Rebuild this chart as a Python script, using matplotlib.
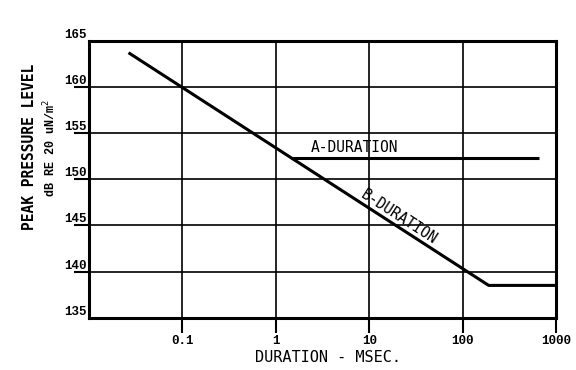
import matplotlib
matplotlib.use("Agg")
import matplotlib.pyplot as plt
from matplotlib.ticker import FixedLocator, NullLocator, FixedFormatter

# Data
b_duration_ms = [0.0265, 190, 1000]
b_level_db = [163.7, 138.5, 138.5]
a_duration_ms = [1.45, 650]
a_level_db = [152.3, 152.3]
x_ticks = [0.1, 1, 10, 100, 1000]
x_tick_labels = ["0.1", "1", "10", "100", "1000"]
y_ticks = [135, 140, 145, 150, 155, 160, 165]
y_tick_labels = [str(v) for v in y_ticks]

fig = plt.figure(figsize=(5.76, 3.70), dpi=100)
ax = fig.add_axes([0.1545, 0.1413, 0.9653 - 0.1545, 0.89 - 0.1413])
ax.set_xscale("log")
ax.set_xlim(0.01, 1000)
ax.set_ylim(135, 165)

# grid
for xv in x_ticks[:-1]:
    ax.axvline(xv, color="black", lw=1.2, zorder=1)
for yv in y_ticks[1:-1]:
    ax.axhline(yv, color="black", lw=1.2, zorder=1)

ax.plot(b_duration_ms, b_level_db, color="black", lw=2.2, solid_capstyle="butt", zorder=3)
ax.plot(a_duration_ms, a_level_db, color="black", lw=2.2, solid_capstyle="butt", zorder=3)

ax.text(2.38, 153.4, "A-DURATION", fontsize=10.5, family="DejaVu Sans Mono",
        ha="left", va="center")
ax.text(21.1, 145.9, "B-DURATION", fontsize=10.5, family="DejaVu Sans Mono",
        ha="center", va="center", rotation=-33, rotation_mode="anchor")

# x axis ticks
ax.xaxis.set_major_locator(FixedLocator(x_ticks))
ax.xaxis.set_major_formatter(FixedFormatter(x_tick_labels))
ax.xaxis.set_minor_locator(NullLocator())
ax.tick_params(axis="x", which="major", direction="out", length=11, width=1.5, pad=1.5,
               labelsize=9)

# y axis ticks
ax.yaxis.remove_overlapping_locs = False
ax.yaxis.set_major_locator(FixedLocator(y_ticks))
ax.yaxis.set_major_formatter(FixedFormatter(y_tick_labels))
ax.yaxis.set_minor_locator(FixedLocator(y_ticks[1:-1]))
ax.tick_params(axis="y", which="major", direction="out", length=0, pad=2, labelsize=9)
ax.tick_params(axis="y", which="minor", direction="out", length=10.5, width=1.5)

for lab in ax.get_xticklabels() + ax.get_yticklabels():
    lab.set_family("Liberation Mono")
    lab.set_weight("bold")
for lab in ax.get_yticklabels():
    lab.set_va("bottom")

for sp in ax.spines.values():
    sp.set_linewidth(2.2)

fig.text(328 / 576, 1 - 357 / 370, "DURATION - MSEC.", fontsize=11,
         family="DejaVu Sans Mono", ha="center", va="center")
fig.text(30 / 576, 1 - 147 / 370, "PEAK PRESSURE LEVEL", fontsize=10.5,
         family="DejaVu Sans Mono", weight="bold", rotation=90, ha="center", va="center")
fig.text(50 / 576, 1 - 148 / 370, r"dB RE 20 uN/m$^2$", fontsize=8.5,
         family="Liberation Mono", weight="bold", rotation=90, ha="center", va="center")

fig.savefig("out.png", dpi=100)
